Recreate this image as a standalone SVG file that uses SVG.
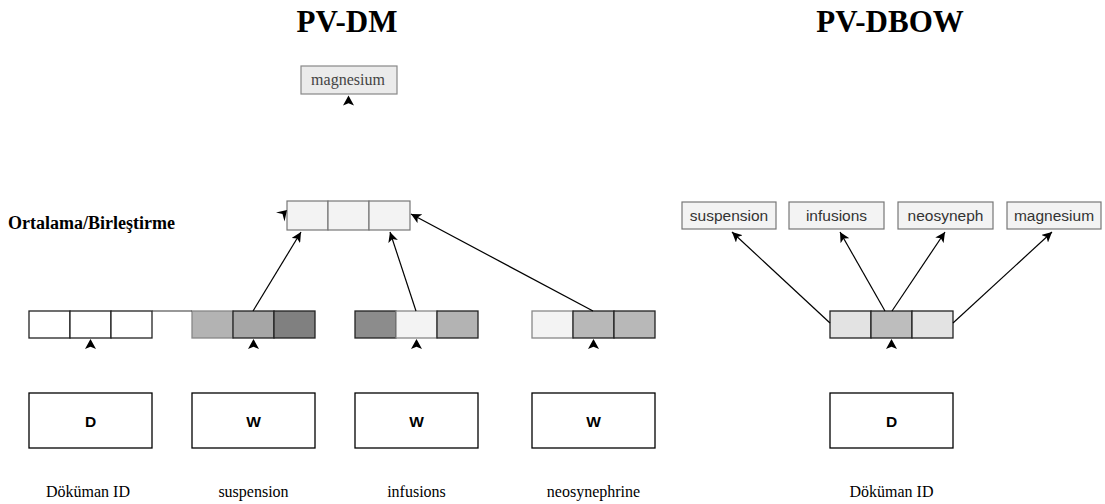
<svg xmlns="http://www.w3.org/2000/svg" width="1105" height="504" viewBox="0 0 1105 504">
  <defs>
    <marker id="arr" viewBox="0 0 10 10" refX="10" refY="5" markerWidth="10" markerHeight="10" markerUnits="userSpaceOnUse" orient="auto">
      <path d="M10,5 L0,0 L2.5,5 L0,10 Z" fill="#000"/>
    </marker>
    <path id="tick" d="M0,0 L5.5,10 L0,7.8 L-5.5,10 Z" fill="#000"/>
  </defs>
  <style>
    .title { font-family: "Liberation Serif", "Times New Roman", serif; font-weight: bold; font-size: 31px; fill: #000; }
    .side { font-family: "Liberation Serif", "Times New Roman", serif; font-weight: bold; font-size: 18px; fill: #000; }
    .cap { font-family: "Liberation Serif", "Times New Roman", serif; font-size: 16px; fill: #000; }
    .word { font-family: "Liberation Sans", Arial, sans-serif; font-size: 15.5px; fill: #333; }
    .big { font-family: "Liberation Sans", Arial, sans-serif; font-weight: bold; font-size: 15.5px; fill: #000; }
    .box { fill: #fff; stroke: #000; stroke-width: 1.3; }
    .lbl { fill: #f3f3f3; stroke: #777; stroke-width: 1.2; }
    .cell { stroke: #222; stroke-width: 1.3; }
    .soft { stroke: #888; }
    .link { stroke: #000; stroke-width: 1.2; fill: none; marker-end: url(#arr); }
  </style>

  <rect width="1105" height="504" fill="#fff"/>

  <!-- headings -->
  <text class="title" x="347" y="32" text-anchor="middle">PV-DM</text>
  <text class="title" x="890" y="32" text-anchor="middle">PV-DBOW</text>
  <text class="side" x="8" y="228.5">Ortalama/Birleştirme</text>

  <!-- PV-DM output word -->
  <g id="out-magnesium">
    <rect x="301" y="66" width="96" height="28" fill="#ebebeb" stroke="#888" stroke-width="1.2"/>
    <text x="348" y="85" text-anchor="middle" font-family="Liberation Serif, Times New Roman, serif" font-size="16" fill="#444">magnesium</text>
  </g>

  <!-- averaged / concatenated vector -->
  <g id="concat">
    <rect class="lbl" x="287" y="201" width="41" height="29"/>
    <rect class="lbl" x="328" y="201" width="41" height="29"/>
    <rect class="lbl" x="369" y="201" width="41" height="29" stroke-width="1.6"/>
  </g>

  <!-- paragraph vector (PV-DM) -->
  <g id="vec-doc">
    <rect class="cell" x="29" y="311" width="41" height="27" fill="#fff"/>
    <rect class="cell" x="70" y="311" width="41" height="27" fill="#fff"/>
    <rect class="cell" x="111" y="311" width="41" height="27" fill="#fff"/>
  </g>

  <g id="vec-suspension">
    <rect class="cell soft" x="192" y="311" width="41" height="27" fill="#b3b3b3"/>
    <rect class="cell" x="233" y="311" width="41" height="27" fill="#a6a6a6"/>
    <rect class="cell" x="274" y="311" width="41" height="27" fill="#808080"/>
  </g>

  <g id="vec-infusions">
    <rect class="cell" x="355" y="311" width="41" height="27" fill="#8c8c8c"/>
    <rect class="cell soft" x="396" y="311" width="41" height="27" fill="#f3f3f3"/>
    <rect class="cell" x="437" y="311" width="41" height="27" fill="#b3b3b3"/>
  </g>

  <g id="vec-neosynephrine">
    <rect class="cell soft" x="532" y="311" width="41" height="27" fill="#f3f3f3"/>
    <rect class="cell" x="573" y="311" width="41" height="27" fill="#b8b8b8"/>
    <rect class="cell" x="614" y="311" width="41" height="27" fill="#b8b8b8"/>
  </g>

  <!-- input boxes (PV-DM) -->
  <g id="in-doc">
    <rect class="box" x="29" y="393" width="123" height="55"/>
    <text class="big" x="90.5" y="427" text-anchor="middle">D</text>
    <text class="cap" x="88" y="497" text-anchor="middle">Döküman ID</text>
  </g>
  <g id="in-suspension">
    <rect class="box" x="192" y="393" width="123" height="55"/>
    <text class="big" x="253.5" y="427" text-anchor="middle">W</text>
    <text class="cap" x="253.5" y="497" text-anchor="middle">suspension</text>
  </g>
  <g id="in-infusions">
    <rect class="box" x="355" y="393" width="123" height="55"/>
    <text class="big" x="416.5" y="427" text-anchor="middle">W</text>
    <text class="cap" x="416.5" y="497" text-anchor="middle">infusions</text>
  </g>
  <g id="in-neosynephrine">
    <rect class="box" x="532" y="393" width="123" height="55"/>
    <text class="big" x="593.5" y="427" text-anchor="middle">W</text>
    <text class="cap" x="593.5" y="497" text-anchor="middle">neosynephrine</text>
  </g>

  <!-- PV-DBOW output words -->
  <g id="dbow-suspension">
    <rect class="lbl" x="682" y="202" width="94" height="27"/>
    <text class="word" x="729" y="221" text-anchor="middle">suspension</text>
  </g>
  <g id="dbow-infusions">
    <rect class="lbl" x="789" y="202" width="95" height="27"/>
    <text class="word" x="836.5" y="221" text-anchor="middle">infusions</text>
  </g>
  <g id="dbow-neosyneph">
    <rect class="lbl" x="898" y="202" width="95" height="27"/>
    <text class="word" x="945.5" y="221" text-anchor="middle">neosyneph</text>
  </g>
  <g id="dbow-magnesium">
    <rect class="lbl" x="1007" y="202" width="94" height="27"/>
    <text class="word" x="1054" y="221" text-anchor="middle">magnesium</text>
  </g>

  <!-- paragraph vector (PV-DBOW) -->
  <g id="dbow-vec">
    <rect class="cell" x="830" y="311" width="41" height="27" fill="#e3e3e3"/>
    <rect class="cell" x="871" y="311" width="41" height="27" fill="#bdbdbd"/>
    <rect class="cell" x="912" y="311" width="41" height="27" fill="#e3e3e3"/>
  </g>

  <g id="dbow-in-doc">
    <rect class="box" x="830" y="393" width="123" height="55"/>
    <text class="big" x="891.5" y="427" text-anchor="middle">D</text>
    <text class="cap" x="891.5" y="497" text-anchor="middle">Döküman ID</text>
  </g>

  <!-- connectors -->
  <g id="connectors">
    <line x1="152" y1="311" x2="192" y2="311" stroke="#333" stroke-width="1.2"/>
    <line class="link" x1="253" y1="311" x2="301" y2="232"/>
    <line class="link" x1="416" y1="311" x2="390" y2="232"/>
    <line class="link" x1="593" y1="311" x2="411" y2="214"/>
    <path d="M276,212.5 L287,210 L284.5,221.5 L282.5,214 Z" fill="#000"/>

    <line class="link" x1="830" y1="323" x2="732" y2="232"/>
    <line class="link" x1="885" y1="311" x2="840" y2="232"/>
    <line class="link" x1="892" y1="311" x2="945" y2="232"/>
    <line class="link" x1="953" y1="323" x2="1052" y2="232"/>

    <!-- inputs feeding the vectors -->
    <use href="#tick" x="90.5" y="339"/>
    <use href="#tick" x="253.5" y="339"/>
    <use href="#tick" x="416.5" y="339"/>
    <use href="#tick" x="593.5" y="339"/>
    <use href="#tick" x="891.5" y="339"/>
    <use href="#tick" x="348.5" y="95.5"/>
  </g>
</svg>
